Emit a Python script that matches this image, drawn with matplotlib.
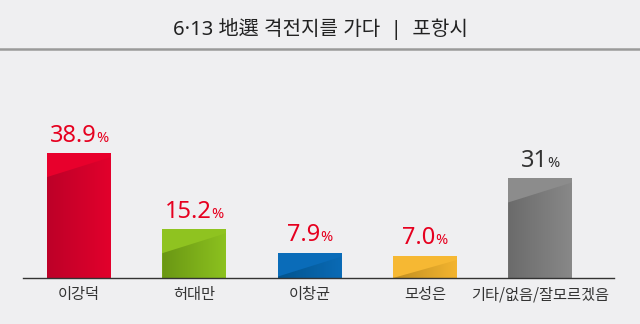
import numpy as np
import matplotlib
matplotlib.use("Agg")
import matplotlib.pyplot as plt
from matplotlib.colors import LinearSegmentedColormap
from matplotlib.patches import Polygon, Rectangle
from matplotlib.offsetbox import TextArea, HPacker, AnnotationBbox

plt.rcParams['font.family'] = ['Noto Sans CJK KR', 'DejaVu Sans']
latin_first = ['Noto Sans', 'Noto Sans CJK KR', 'DejaVu Sans']

title = "6·13 地選 격전지를 가다  |  포항시"
names = ["이강덕", "허대만", "이창균", "모성은", "기타/없음/잘모르겠음"]
values = [38.9, 15.2, 7.9, 7.0, 31]
value_text = ["38.9", "15.2", "7.9", "7.0", "31"]
# (light top colour, dark left, right)
bar_colors = [("#e8002c", "#bd0028", "#e2002c"),
              ("#8fc320", "#6a9714", "#8cc11f"),
              ("#0a6cb9", "#03558f", "#0a6ab5"),
              ("#f6b833", "#c08f22", "#f3b42f"),
              ("#8c8c8c", "#6b6b6b", "#888888")]
label_colors = ["#e6001f", "#e6001f", "#e6001f", "#e6001f", "#333333"]

bg = "#efeff1"
fig = plt.figure(figsize=(6.4, 3.24), dpi=100, facecolor=bg)

# title and separator
fig.text(0.5, 1 - 29 / 324, title, ha="center", va="center", fontsize=14.5,
         color="#222222", family=latin_first)
fig.add_artist(plt.Line2D([0, 1], [1 - 49 / 324, 1 - 49 / 324], color="#9a9a9a", lw=1.8))

ax = fig.add_axes([21.3 / 640, 46 / 324, 576.5 / 640, 144.5 / 324])
ax.set_facecolor(bg)
ax.patch.set_alpha(0)

w = 0.555
ppu = 3.21  # pixels per percent
x = np.arange(len(values))
grad = np.linspace(0, 1, 64).reshape(1, -1)
for i, v in enumerate(values):
    light, dark, right = bar_colors[i]
    x0, x1 = i - w / 2, i + w / 2
    ax.add_patch(Rectangle((x0, 0), w, v, facecolor=light, edgecolor="none", zorder=1))
    cmap = LinearSegmentedColormap.from_list("g%d" % i, [dark, right])
    im = ax.imshow(grad, extent=[x0, x1, 0, v], aspect="auto", cmap=cmap, zorder=2)
    yl = max(v - 24 / ppu, 0)
    yr = max(v - 4 / ppu, 0)
    poly = Polygon([(x0, 0), (x1, 0), (x1, yr), (x0, yl)], closed=True,
                   transform=ax.transData, facecolor="none", edgecolor="none")
    ax.add_patch(poly)
    im.set_clip_path(poly)

    num = TextArea(value_text[i], textprops=dict(fontsize=17, color=label_colors[i], family=latin_first))
    pct = TextArea("%", textprops=dict(fontsize=10.5, color=label_colors[i], family=latin_first))
    box = HPacker(children=[num, pct], align="baseline", pad=0, sep=0)
    ab = AnnotationBbox(box, (i, v), xybox=(0, 4), xycoords="data",
                        boxcoords="offset points", box_alignment=(0.5, 0),
                        frameon=False, pad=0)
    ax.add_artist(ab)

ax.plot([-0.485, 4.64], [0, 0], color="#333333", lw=1.0, clip_on=False, zorder=3)

ax.set_xlim(-0.5, 4.5)
ax.set_ylim(0, 45)
ax.set_xticks(x)
ax.set_xticklabels(names, fontsize=11, color="#333333")
ax.tick_params(axis="x", length=0, pad=6)
ax.set_yticks([])
for s in ax.spines.values():
    s.set_visible(False)

fig.savefig("out.png", dpi=100, facecolor=bg)
